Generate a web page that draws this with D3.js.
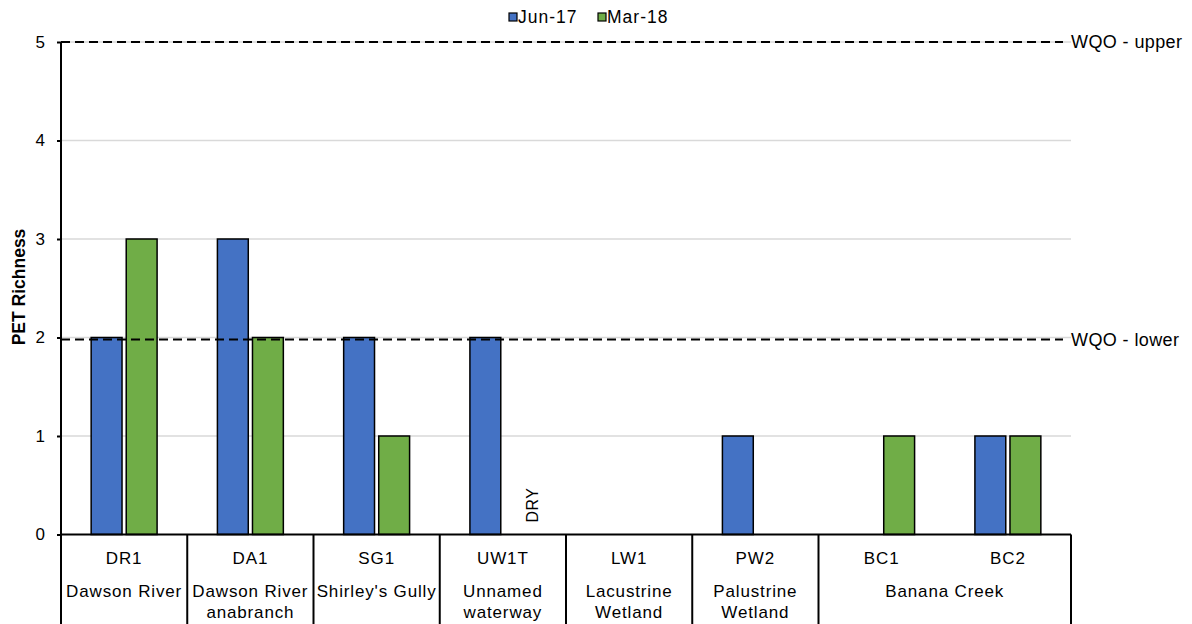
<!DOCTYPE html>
<html>
<head>
<meta charset="utf-8">
<script src="https://cdn.jsdelivr.net/npm/d3@7"></script>
<style>
  body { margin: 0; background: #fff; }
  text { font-family: "Liberation Sans", Arial, sans-serif; fill: #000; }
</style>
</head>
<body>
<div id="chart"></div>
<script>
// data
var sites = ["DR1", "DA1", "SG1", "UW1T", "LW1", "PW2", "BC1", "BC2"];
var siteGroups = ["Dawson River", "Dawson River\nanabranch", "Shirley's Gully", "Unnamed\nwaterway",
                  "Lacustrine\nWetland", "Palustrine\nWetland", "Banana Creek", "Banana Creek"];
var seriesNames = ["Jun-17", "Mar-18"];
var jun17 = [2, 3, 2, 2, null, 1, null, 1];
var mar18 = [3, 2, 1, null, null, null, 1, 1];
var dryNotes = [null, null, null, "DRY", null, null, null, null]; // Mar-18 notes
var yTicks = [0, 1, 2, 3, 4, 5];
var wqoLabels = ["WQO - upper", "WQO - lower"];
var wqoValues = [5, 1.98];

var colors = { "Jun-17": "#4472C4", "Mar-18": "#70AD47" };

var W = 1192, H = 624;
var margin = { top: 42, right: 121, bottom: 89.5, left: 61 };

var svg = d3.select("#chart").append("svg")
    .attr("width", W)
    .attr("height", H);

var x = d3.scaleBand()
    .domain(sites)
    .range([margin.left, W - margin.right])
    .padding(0);

var xs = d3.scaleBand()
    .domain(seriesNames)
    .range([0, x.bandwidth()])
    .paddingInner(0.12)
    .paddingOuter(0.86);

var y = d3.scaleLinear()
    .domain([0, 5])
    .range([H - margin.bottom, margin.top]);

// gridlines
svg.append("g")
    .selectAll("line")
    .data(yTicks.filter(d => d > 0))
    .join("line")
    .attr("x1", margin.left)
    .attr("x2", W - margin.right)
    .attr("y1", d => y(d))
    .attr("y2", d => y(d))
    .attr("stroke", "#d9d9d9")
    .attr("stroke-width", 1.5);

// bars
var rows = sites.map((s, i) => ({ site: s, values: [
    { key: "Jun-17", v: jun17[i] },
    { key: "Mar-18", v: mar18[i] }
] }));

var g = svg.append("g")
    .selectAll("g")
    .data(rows)
    .join("g")
    .attr("transform", d => "translate(" + x(d.site) + ",0)");

g.selectAll("rect")
    .data(d => d.values.filter(v => v.v != null))
    .join("rect")
    .attr("x", d => xs(d.key))
    .attr("width", xs.bandwidth())
    .attr("y", d => y(d.v))
    .attr("height", d => y(0) - y(d.v))
    .attr("fill", d => colors[d.key])
    .attr("stroke", "#000")
    .attr("stroke-width", 1.5);

// DRY note
sites.forEach(function (s, i) {
    if (!dryNotes[i]) return;
    var cx = x(s) + xs("Mar-18") + xs.bandwidth() / 2 + 18;
    svg.append("text")
        .attr("transform", "translate(" + cx + "," + (y(0) - 12) + ") rotate(-90)")
        .attr("font-size", "16px")
        .attr("letter-spacing", "0.5px")
        .text(dryNotes[i]);
});

// WQO dashed lines
wqoValues.forEach(function (v, i) {
    svg.append("line")
        .attr("x1", margin.left)
        .attr("x2", W - margin.right - 8)
        .attr("y1", y(v))
        .attr("y2", y(v))
        .attr("stroke", "#000")
        .attr("stroke-width", 2)
        .attr("stroke-dasharray", "9,5");
    svg.append("text")
        .attr("x", W - margin.right)
        .attr("y", y(v))
        .attr("dy", "0.35em")
        .attr("font-size", "18px")
        .attr("letter-spacing", "0.4px")
        .text(wqoLabels[i]);
});

// y axis
var yAxis = svg.append("g")
    .attr("transform", "translate(" + margin.left + ",0)")
    .call(d3.axisLeft(y).tickValues(yTicks).tickFormat(d3.format("d")).tickSize(4).tickPadding(12));
yAxis.select(".domain").attr("stroke", "#000").attr("stroke-width", 2).attr("d", "M0," + y(5) + "V" + H);
yAxis.selectAll(".tick line").attr("stroke", "#000").attr("stroke-width", 2);
yAxis.selectAll(".tick text").attr("font-size", "17px").attr("font-family", "Liberation Sans, Arial, sans-serif").attr("fill", "#000");

svg.append("text")
    .attr("transform", "translate(25,287) rotate(-90)")
    .attr("text-anchor", "middle")
    .attr("font-size", "17.5px")
    .attr("font-weight", "bold")
    .text("PET Richness");

// category axis box
svg.append("line")
    .attr("x1", margin.left)
    .attr("x2", W - margin.right)
    .attr("y1", y(0))
    .attr("y2", y(0))
    .attr("stroke", "#000")
    .attr("stroke-width", 2);

// dividers: skip between sites that share a group
var edges = [];
sites.forEach(function (s, i) {
    if (i === 0 || siteGroups[i] !== siteGroups[i - 1]) edges.push(x(s));
});
edges.push(W - margin.right);
svg.append("g")
    .selectAll("line")
    .data(edges)
    .join("line")
    .attr("x1", d => d)
    .attr("x2", d => d)
    .attr("y1", y(0))
    .attr("y2", H)
    .attr("stroke", "#000")
    .attr("stroke-width", 2);

// site codes
svg.append("g")
    .selectAll("text")
    .data(sites)
    .join("text")
    .attr("x", d => x(d) + x.bandwidth() / 2)
    .attr("y", 564)
    .attr("text-anchor", "middle")
    .attr("font-size", "17px")
    .attr("letter-spacing", "0.9px")
    .text(d => d);

// group names, centred over their run of sites
var groups = [];
sites.forEach(function (s, i) {
    var last = groups[groups.length - 1];
    if (last && last.name === siteGroups[i]) last.x1 = x(s) + x.bandwidth();
    else groups.push({ name: siteGroups[i], x0: x(s), x1: x(s) + x.bandwidth() });
});
var gt = svg.append("g")
    .selectAll("text")
    .data(groups)
    .join("text")
    .attr("x", d => (d.x0 + d.x1) / 2)
    .attr("y", 597)
    .attr("text-anchor", "middle")
    .attr("font-size", "17px")
    .attr("letter-spacing", "0.85px");
gt.selectAll("tspan")
    .data(d => d.name.split("\n").map(t => ({ t: t, cx: (d.x0 + d.x1) / 2 })))
    .join("tspan")
    .attr("x", d => d.cx)
    .attr("dy", (d, i) => i === 0 ? 0 : 21)
    .text(d => d.t);

// legend
var legend = svg.append("g").attr("transform", "translate(509,17)");
var lx = 0;
seriesNames.forEach(function (s) {
    legend.append("rect")
        .attr("x", lx)
        .attr("y", -4)
        .attr("width", 8)
        .attr("height", 8)
        .attr("fill", colors[s])
        .attr("stroke", "#000")
        .attr("stroke-width", 1.2);
    legend.append("text")
        .attr("x", lx + 9)
        .attr("y", 0)
        .attr("dy", "0.35em")
        .attr("font-size", "17.5px")
        .attr("letter-spacing", "1px")
        .text(s);
    lx += 89;
});
</script>
</body>
</html>
